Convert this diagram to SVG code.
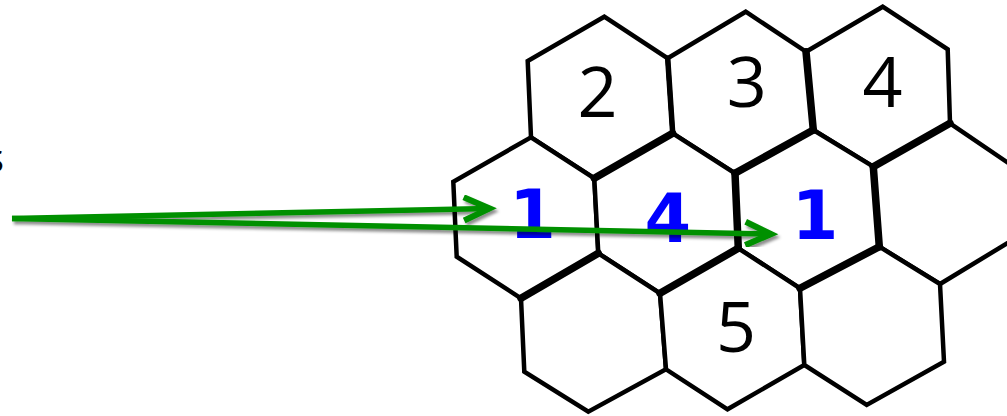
<svg xmlns="http://www.w3.org/2000/svg" width="1007" height="416" viewBox="0 0 1007 416">
<style>
.hex{fill:#ffffff;stroke:#000000;stroke-width:4.5;stroke-linejoin:miter}
.thick{fill:none;stroke:#000000;stroke-width:7.5;stroke-linecap:round}
.mid{fill:none;stroke:#000000;stroke-width:5.5;stroke-linecap:round}
.lbl{font-family:"Open Sans","Liberation Sans",sans-serif;font-size:70px;fill:#000000;text-anchor:middle}
.blue{font-family:"DejaVu Sans","Liberation Sans",sans-serif;font-weight:bold;font-size:67px;fill:#0000ff;text-anchor:middle}
.arr{fill:none;stroke:#009000;stroke-width:5.5}
</style>
<defs>
<filter id="sh" x="-5%" y="-50%" width="110%" height="200%">
<feDropShadow dx="2" dy="3" stdDeviation="1.6" flood-color="#000000" flood-opacity="0.45"/>
</filter>
<marker id="chev" markerUnits="userSpaceOnUse" markerWidth="40" markerHeight="40" viewBox="-30 -15 36 30" refX="0" refY="0" orient="auto" overflow="visible">
<path d="M-23,-10.5 L0,0 L-23,10.5" fill="none" stroke="#009000" stroke-width="5.5" stroke-linejoin="miter"/>
</marker>
</defs>
<rect width="1007" height="416" fill="#ffffff"/>
<text x="4" y="172" style="font-family:'Open Sans','Liberation Sans',sans-serif;font-size:40px;fill:#000;text-anchor:end">s</text>
<g id="hex-2"><polygon class="hex" points="604.3,16.7 667.7,58.3 672.7,133.3 594.3,178.3 531,137.3 527.7,61"/></g>
<g id="hex-3"><polygon class="hex" points="745.7,11.7 806,51.7 813.3,130 735,173.3 672.7,133.3 667.7,58.3"/></g>
<g id="hex-4"><polygon class="hex" points="882.7,6.7 947.7,49.3 950,123.3 873.3,166.7 813.3,130 806,51.7"/></g>
<g id="hex-1a"><polygon class="hex" points="531,137.3 594.3,178.3 598.3,253.3 521,298.3 456.7,256.7 453.3,181.7"/></g>
<g id="hex-4b"><polygon class="hex" points="672.7,133.3 735,173.3 738.3,248.3 660,293.3 598.3,253.3 594.3,178.3"/></g>
<g id="hex-1b"><polygon class="hex" points="813.3,130 873.3,166.7 879.3,246.7 800,288.3 738.3,248.3 735,173.3"/></g>
<g id="hex-r1"><polygon class="hex" points="950,123.3 1020,171 1020,235.5 940,284 879.3,246.7 873.3,166.7"/></g>
<g id="hex-b1"><polygon class="hex" points="598.3,253.3 660,293.3 666,369.3 588.3,411.7 524.3,371.7 521,298.3"/></g>
<g id="hex-5"><polygon class="hex" points="738.3,248.3 800,288.3 804.3,365 727.5,409.3 666,369.3 660,293.3"/></g>
<g id="hex-b3"><polygon class="hex" points="879.3,246.7 940,284 944,361.7 866.7,405 804.3,365 800,288.3"/></g>
<g id="borders">
<line class="mid" x1="667.7" y1="58.3" x2="672.7" y2="133.3"/>
<line class="thick" x1="594.3" y1="178.3" x2="672.7" y2="133.3"/>
<line class="thick" x1="806" y1="51.7" x2="813.3" y2="130"/>
<line class="thick" x1="735" y1="173.3" x2="813.3" y2="130"/>
<line class="thick" x1="873.3" y1="166.7" x2="950" y2="123.3"/>
<line class="thick" x1="873.3" y1="166.7" x2="879.3" y2="246.7"/>
<line class="thick" x1="735" y1="173.3" x2="738.3" y2="248.3"/>
<line class="thick" x1="521" y1="298.3" x2="598.3" y2="253.3"/>
<line class="thick" x1="660" y1="293.3" x2="738.3" y2="248.3"/>
<line class="thick" x1="800" y1="288.3" x2="879.3" y2="246.7"/>
</g>
<g id="labels">
<text class="lbl" x="597.5" y="117">2</text>
<text class="lbl" x="746.7" y="106.5">3</text>
<text class="lbl" x="882.5" y="107.3">4</text>
<text class="lbl" x="736" y="351.5">5</text>
<text class="blue" x="532.5" y="238">1</text>
<text class="blue" x="667.7" y="241.5">4</text>
<text class="blue" x="815" y="238.5">1</text>
</g>
<g id="connectors" filter="url(#sh)">
<line class="arr" x1="12" y1="218.5" x2="489.5" y2="208.4" marker-end="url(#chev)"/>
<line class="arr" x1="12" y1="218.5" x2="771" y2="234" marker-end="url(#chev)"/>
</g>
</svg>
